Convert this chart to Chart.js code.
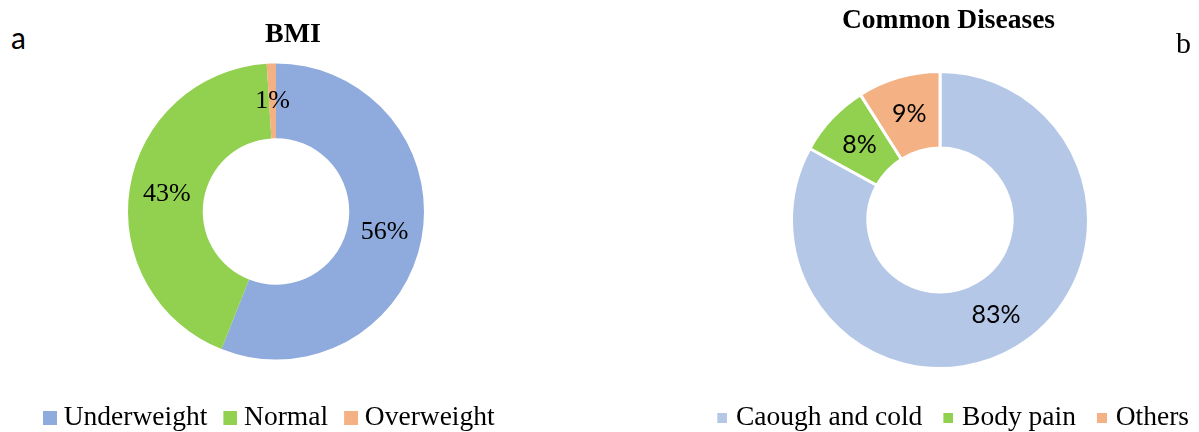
<!DOCTYPE html>
<html>
<head>
<meta charset="utf-8">
<script src="https://cdn.jsdelivr.net/npm/chart.js@4.4.1/dist/chart.umd.min.js"></script>
<style>
  html, body { margin: 0; padding: 0; background: #fff; }
  #stage { position: relative; width: 1199px; height: 432px; overflow: hidden; background: #fff; }
  #stage canvas { position: absolute; top: 0; }
  .txt { position: absolute; white-space: nowrap; line-height: 1; color: #000; }
  .ttl { transform: translateX(-50%); font-weight: bold; font-family: "Liberation Serif", "Times New Roman", serif; }
</style>
</head>
<body>
<div id="stage">
  <canvas id="bmiChart" width="498" height="442" style="left:27px"></canvas>
  <canvas id="diseaseChart" width="530" height="442" style="left:675px"></canvas>
  <div class="txt" style="left:11px; top:22px; font-family:Lato, sans-serif; font-size:30px;">a</div>
  <div class="txt" style="left:1176px; top:28px; font-family:'Liberation Serif', serif; font-size:30px;">b</div>
  <div class="txt ttl" style="left:293px; top:18.5px; font-size:28px;">BMI</div>
  <div class="txt ttl" style="left:948.5px; top:5px; font-size:27.5px;">Common Diseases</div>
</div>
<script>
// Panel a: BMI distribution (percent)
const bmiLabels = ['Underweight', 'Normal', 'Overweight'];
const bmiValues = [56, 43, 1];
const bmiColors = ['#8FAADC', '#92D050', '#F4B183'];

// Panel b: common diseases (percent)
const diseaseLabels = ['Caough and cold', 'Body pain', 'Others'];
const diseaseValues = [83, 8, 9];
const diseaseColors = ['#B4C7E7', '#92D050', '#F4B183'];

// Square legend marker, drawn on a small canvas so it sits closer to its label text
function swatch(color, size, shift) {
  const c = document.createElement('canvas');
  c.width = size + 2 * shift;
  c.height = size;
  const g = c.getContext('2d');
  g.fillStyle = color;
  g.fillRect(2 * shift, 0, size, size);
  return c;
}

function legendLabels(size, shift) {
  return function (chart) {
    const base = (Chart.overrides && Chart.overrides.doughnut)
      ? Chart.overrides.doughnut.plugins.legend.labels.generateLabels
      : Chart.controllers.doughnut.overrides.plugins.legend.labels.generateLabels;
    const items = base(chart);
    items.forEach(it => { it.pointStyle = swatch(it.fillStyle, size, shift); });
    return items;
  };
}

// Percentage text at the middle of each ring segment
const arcLabels = {
  id: 'arcLabels',
  afterDatasetsDraw(chart, args, opts) {
    const ctx = chart.ctx;
    const meta = chart.getDatasetMeta(0);
    const values = chart.data.datasets[0].data;
    ctx.save();
    ctx.font = opts.font;
    ctx.fillStyle = opts.color || '#000';
    ctx.textAlign = 'center';
    ctx.textBaseline = 'middle';
    meta.data.forEach((arc, i) => {
      const p = arc.tooltipPosition();
      ctx.fillText(values[i] + '%', p.x, p.y);
    });
    ctx.restore();
  }
};

const legendFont = { family: "'Liberation Serif', 'Times New Roman', serif", size: 27.5 };

new Chart(document.getElementById('bmiChart'), {
  type: 'doughnut',
  data: {
    labels: bmiLabels,
    datasets: [{
      data: bmiValues,
      backgroundColor: bmiColors,
      borderWidth: 0,
      radius: 148,
      cutout: '49.5%'
    }]
  },
  options: {
    responsive: false,
    animation: false,
    layout: { padding: { top: 27.5, left: 0, right: 0, bottom: 0 } },
    plugins: {
      tooltip: { enabled: false },
      legend: {
        position: 'bottom',
        align: 'start',
        labels: {
          usePointStyle: true,
          boxWidth: 14,
          boxHeight: 14,
          padding: 9,
          color: '#000',
          font: legendFont,
          generateLabels: legendLabels(14, 7)
        }
      },
      arcLabels: { font: "26px 'Liberation Serif', 'Times New Roman', serif", color: '#000' }
    }
  },
  plugins: [arcLabels]
});

new Chart(document.getElementById('diseaseChart'), {
  type: 'doughnut',
  data: {
    labels: diseaseLabels,
    datasets: [{
      data: diseaseValues,
      backgroundColor: diseaseColors,
      borderColor: '#ffffff',
      borderWidth: 3,
      borderJoinStyle: 'miter',
      radius: 148.5,
      cutout: '48.5%'
    }]
  },
  options: {
    responsive: false,
    animation: false,
    layout: { padding: { top: 51.5, left: 0, right: 0, bottom: 0 } },
    plugins: {
      tooltip: { enabled: false },
      legend: {
        position: 'bottom',
        align: 'end',
        labels: {
          usePointStyle: true,
          boxWidth: 10,
          boxHeight: 10,
          padding: 16,
          color: '#000',
          font: legendFont,
          generateLabels: legendLabels(10, 5)
        }
      },
      arcLabels: { font: "25px Lato, 'Open Sans', sans-serif", color: '#000' }
    }
  },
  plugins: [arcLabels]
});
</script>
</body>
</html>
